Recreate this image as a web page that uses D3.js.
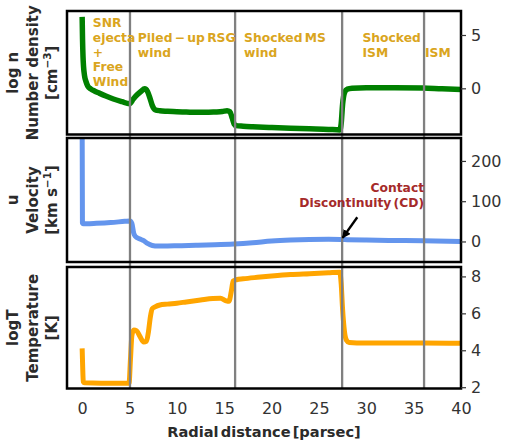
<!DOCTYPE html>
<html><head><meta charset="utf-8">
<script src="https://cdn.jsdelivr.net/npm/d3@7"></script>
<style>
html,body{margin:0;padding:0;background:#fff;}
svg{display:block;font-family:"DejaVu Sans",sans-serif;}
</style></head><body>
<svg id="chart" width="505" height="442"></svg>
<script>
// Radial axis (parsec)
const xTicks = [0, 5, 10, 15, 20, 25, 30, 35, 40];
// Region boundaries: ejecta/wind, RSG shell, contact discontinuity, forward shock
const regionEdges = [5.05, 16.15, 27.45, 36.1];

// log number density [cm^-3]
const densityR = [0, 0.04, 0.09, 0.15, 0.25, 0.4, 0.6, 0.9, 1.3, 1.8, 2.5, 3.3, 4.2, 5.0, 5.4, 5.8, 6.2, 6.6, 6.9, 7.15, 7.4, 7.7, 8.2, 9, 10, 11, 12, 13, 14, 14.8, 15.3, 15.6, 15.85, 16.05, 16.25, 17, 18, 20, 22, 24, 26, 27.2, 27.35, 27.5, 27.7, 28.0, 28.5, 30, 33, 36, 38, 40];
const densityLogN = [6.7, 4.6, 3.0, 2.0, 1.2, 0.65, 0.2, -0.05, -0.25, -0.45, -0.72, -1.0, -1.25, -1.45, -1.0, -0.6, -0.3, -0.05, -0.3, -0.9, -1.6, -2.0, -2.1, -2.15, -2.2, -2.22, -2.25, -2.25, -2.22, -2.18, -2.1, -2.2, -2.8, -3.35, -3.5, -3.55, -3.6, -3.68, -3.75, -3.8, -3.85, -3.9, -3.3, -1.5, -0.4, -0.08, 0.0, 0.05, 0.05, 0.02, -0.05, -0.1];
const densityTicks = [0, 5];

// velocity [km s^-1]
const velocityR = [0, 0.03, 0.15, 0.5, 1.5, 3, 4.5, 5.05, 5.25, 5.45, 5.6, 6.1, 6.5, 6.9, 7.4, 8, 9, 10.5, 12, 14, 16, 18, 20, 22, 24, 26, 27.3, 28, 30, 33, 36, 40];
const velocityU = [290, 46, 44, 44, 45, 47, 50, 51, 45, 20, 13, 6, 2, -5, -10, -11.5, -11, -10.5, -9.5, -8, -6, -3, 1, 3.5, 5, 5.5, 5, 4.5, 3.5, 2.5, 1.5, 0];
const velocityTicks = [0, 100, 200];

// log temperature [K]
const temperatureR = [0, 0.05, 0.12, 0.25, 2, 4, 4.95, 5.1, 5.25, 5.45, 5.75, 6.1, 6.5, 6.8, 7.0, 7.2, 7.4, 7.7, 8.2, 9, 10, 11, 12.5, 13.8, 14.6, 15.2, 15.5, 15.75, 15.95, 16.3, 17, 18.5, 20, 22, 24, 26, 27.2, 27.35, 27.5, 27.7, 27.9, 28.2, 29, 32, 36, 40];
const temperatureLogT = [4.1, 3.2, 2.3, 2.24, 2.22, 2.22, 2.22, 3.5, 4.8, 5.1, 5.05, 4.75, 4.45, 4.5, 5.0, 5.8, 6.25, 6.35, 6.45, 6.5, 6.55, 6.62, 6.72, 6.8, 6.82, 6.68, 6.65, 7.2, 7.75, 7.82, 7.87, 7.95, 8.02, 8.1, 8.15, 8.2, 8.23, 7.6, 6.2, 5.0, 4.55, 4.42, 4.4, 4.4, 4.4, 4.38];
const temperatureTicks = [2, 4, 6, 8];

const svg = d3.select("#chart");
const plotLeft = 67, plotRight = 461;
const x = d3.scaleLinear().domain([-1.6, 40]).range([plotLeft, plotRight]);

const panels = [
  {key: "n", top: 11, bottom: 134.5, domain: [-4.33, 7.25], r: densityR, v: densityLogN, ticks: densityTicks,
   color: "#008000", width: 5.5, labels: ["log n", "Number density", ["[cm", "−3", "]"]]},
  {key: "u", top: 138, bottom: 262, domain: [-51, 257], r: velocityR, v: velocityU, ticks: velocityTicks,
   color: "#6495ED", width: 5, labels: ["u", "Velocity", ["[km s", "−1", "]"]]},
  {key: "T", top: 267, bottom: 388.5, domain: [1.93, 8.51], r: temperatureR, v: temperatureLogT, ticks: temperatureTicks,
   color: "#FFA500", width: 5, labels: ["logT", "Temperature", ["[K]"]]}
];

const defs = svg.append("defs");
panels.forEach(p => {
  p.y = d3.scaleLinear().domain(p.domain).range([p.bottom, p.top]);
  defs.append("clipPath").attr("id", "clip-" + p.key)
    .append("rect").attr("x", plotLeft).attr("y", p.top).attr("width", plotRight - plotLeft).attr("height", p.bottom - p.top);
});

// profiles
panels.forEach(p => {
  const pts = p.r.map((r, i) => [r, p.v[i]]);
  svg.append("path")
    .attr("clip-path", "url(#clip-" + p.key + ")")
    .attr("d", d3.line().x(d => x(d[0])).y(d => p.y(d[1])).curve(d3.curveMonotoneX)(pts))
    .attr("fill", "none").attr("stroke", p.color).attr("stroke-width", p.width)
    .attr("stroke-linejoin", "round");
});

// region boundaries through all panels
svg.append("g").selectAll("line").data(regionEdges).join("line")
  .attr("x1", d => x(d)).attr("x2", d => x(d))
  .attr("y1", panels[0].top).attr("y2", panels[2].bottom)
  .attr("stroke", "#808080").attr("stroke-width", 2.3);

// frames, right-hand axes, left labels
panels.forEach(p => {
  svg.append("rect").attr("x", plotLeft).attr("y", p.top).attr("width", plotRight - plotLeft).attr("height", p.bottom - p.top)
    .attr("fill", "none").attr("stroke", "#000").attr("stroke-width", 2.5);
  const ax = svg.append("g").attr("transform", `translate(${plotRight},0)`)
    .call(d3.axisRight(p.y).tickValues(p.ticks).tickSize(5).tickPadding(5).tickFormat(d3.format("d")));
  ax.select(".domain").remove();
  ax.selectAll(".tick line").attr("stroke", "#333").attr("stroke-width", 1.2);
  ax.selectAll(".tick text").attr("fill", "#333").style("font-size", "16px").style("font-family", "DejaVu Sans");

  const cy = (p.top + p.bottom) / 2;
  const cols = [18, 37.5, 57];
  p.labels.forEach((lab, i) => {
    const t = svg.append("text")
      .attr("transform", `translate(${cols[i]},${cy}) rotate(-90)`)
      .attr("text-anchor", "middle").attr("fill", "#2b2b2b")
      .style("font-weight", "bold").style("font-size", "15px");
    if (Array.isArray(lab)) {
      t.append("tspan").text(lab[0]);
      if (lab.length > 1) {
        t.append("tspan").attr("dy", -6).style("font-size", "10.5px").text(lab[1]);
        t.append("tspan").attr("dy", 6).text(lab[2]);
      }
    } else {
      t.text(lab);
    }
  });
});

// bottom axis
const bottomPanel = panels[2];
const xa = svg.append("g").attr("transform", `translate(0,${bottomPanel.bottom})`)
  .call(d3.axisBottom(x).tickValues(xTicks).tickSize(0).tickPadding(14).tickFormat(d3.format("d")));
xa.select(".domain").remove();
xa.selectAll(".tick text").attr("fill", "#333").style("font-size", "16px").style("font-family", "DejaVu Sans");

svg.append("text").attr("x", (plotLeft + plotRight) / 2).attr("y", 436.5)
  .attr("text-anchor", "middle").attr("fill", "#2b2b2b")
  .style("font-weight", "bold").style("font-size", "14.6px").style("word-spacing", "-3px")
  .text("Radial distance [parsec]");

// region names in the density panel
const regionNames = [
  {x: 1.13, line: 0, text: ["SNR", "ejecta", "+", "Free", "Wind"]},
  {x: 5.88, line: 1, text: ["Piled − up RSG", "wind"]},
  {x: 17.1, line: 1, text: ["Shocked MS", "wind"]},
  {x: 29.6, line: 1, text: ["Shocked", "ISM"]},
  {x: 36.2, line: 2, text: ["ISM"]}
];
const lineStep = 14.7, firstBaseline = 27.3;
regionNames.forEach(r => {
  const t = svg.append("text").attr("fill", "#DAA520")
    .style("font-weight", "bold").style("font-size", "12.3px").style("word-spacing", "-2px");
  r.text.forEach((s, i) => {
    t.append("tspan").attr("x", x(r.x)).attr("y", firstBaseline + (r.line + i) * lineStep).text(s);
  });
});

// contact discontinuity marker in the velocity panel
const midPanel = panels[1];
const cdText = svg.append("text").attr("fill", "#A52A2A").attr("text-anchor", "end")
  .style("font-weight", "bold").style("font-size", "12.3px").style("word-spacing", "-2px");
cdText.append("tspan").attr("x", x(36.1)).attr("y", midPanel.y(124)).text("Contact");
cdText.append("tspan").attr("x", x(36.1)).attr("y", midPanel.y(85)).text("Discontinuity (CD)");

defs.append("marker").attr("id", "head").attr("viewBox", "0 0 10 10")
  .attr("refX", 9).attr("refY", 5).attr("markerWidth", 3.6).attr("markerHeight", 3.6)
  .attr("orient", "auto").attr("markerUnits", "strokeWidth")
  .append("path").attr("d", "M0,0 L10,5 L0,10 z").attr("fill", "#000");
svg.append("line")
  .attr("x1", x(29.05)).attr("y1", midPanel.y(60))
  .attr("x2", x(27.5)).attr("y2", midPanel.y(9))
  .attr("stroke", "#000").attr("stroke-width", 2.4).attr("marker-end", "url(#head)");
</script>
</body></html>
